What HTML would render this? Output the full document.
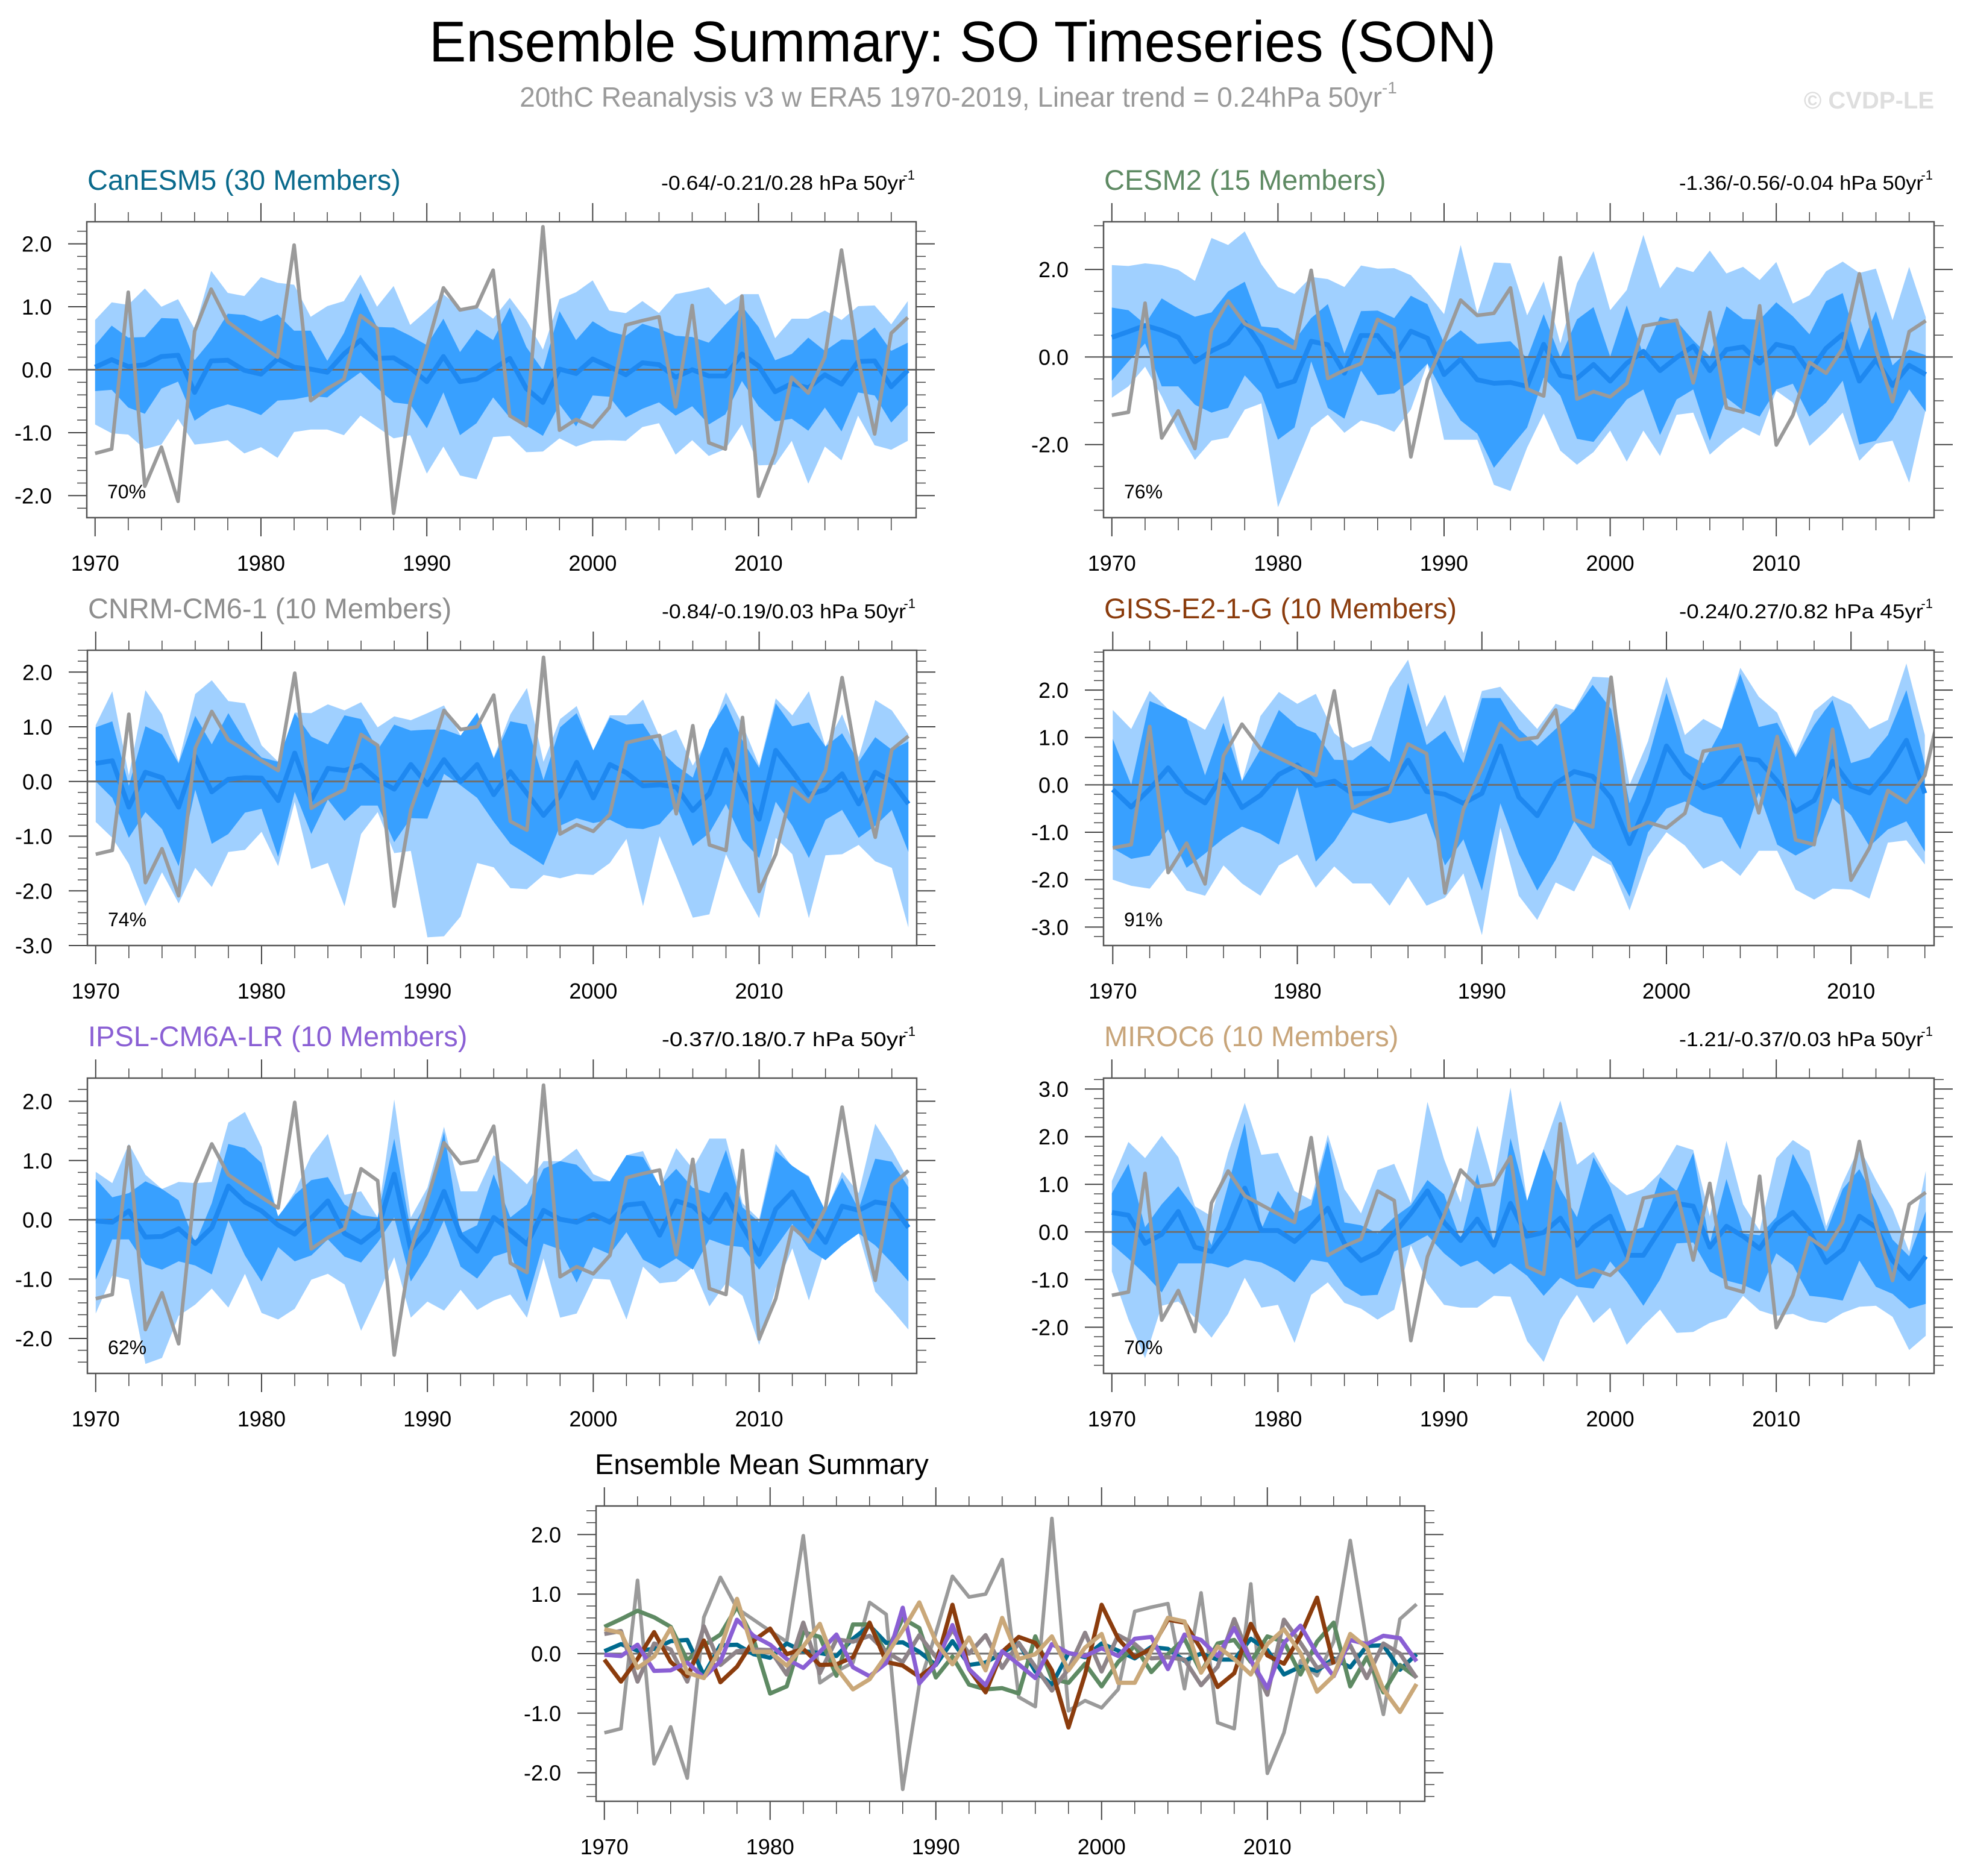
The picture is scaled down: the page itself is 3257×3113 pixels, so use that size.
<!DOCTYPE html>
<html><head><meta charset="utf-8"><title>Ensemble Summary: SO Timeseries (SON)</title>
<style>
html,body{margin:0;padding:0;background:#fff;}
svg{display:block;font-family:"Liberation Sans",Arial,sans-serif;}
</style></head>
<body>
<svg id="fig" xmlns="http://www.w3.org/2000/svg" width="3257" height="3113" viewBox="0 0 3257 3113">
<rect x="0" y="0" width="3257" height="3113" fill="#fff"/>
<text x="1597" y="102" font-size="96" text-anchor="middle" fill="#000" textLength="1770" lengthAdjust="spacingAndGlyphs">Ensemble Summary: SO Timeseries (SON)</text>
<text x="1590" y="177" font-size="46" text-anchor="middle" fill="#9a9a9a">20thC Reanalysis v3 w ERA5 1970-2019, Linear trend = 0.24hPa 50yr<tspan font-size="28" dy="-22">-1</tspan></text>
<text x="3209" y="180" font-size="40" font-weight="bold" text-anchor="end" fill="#dedede">© CVDP-LE</text>
<g id="panels"></g>
</svg>
<script>
const years = [1970,1971,1972,1973,1974,1975,1976,1977,1978,1979,1980,1981,1982,1983,1984,1985,1986,1987,1988,1989,1990,1991,1992,1993,1994,1995,1996,1997,1998,1999,2000,2001,2002,2003,2004,2005,2006,2007,2008,2009,2010,2011,2012,2013,2014,2015,2016,2017,2018,2019];
const gissYears = [1970,1971,1972,1973,1974,1975,1976,1977,1978,1979,1980,1981,1982,1983,1984,1985,1986,1987,1988,1989,1990,1991,1992,1993,1994,1995,1996,1997,1998,1999,2000,2001,2002,2003,2004,2005,2006,2007,2008,2009,2010,2011,2012,2013,2014];
const obsValues = [-1.33,-1.26,1.23,-1.85,-1.23,-2.09,0.61,1.28,0.76,0.57,0.38,0.2,1.98,-0.49,-0.3,-0.15,0.86,0.66,-2.28,-0.52,0.35,1.3,0.95,1.0,1.58,-0.73,-0.89,2.27,-0.96,-0.79,-0.91,-0.6,0.71,0.78,0.84,-0.59,1.02,-1.16,-1.26,1.17,-2.01,-1.33,-0.12,-0.37,0.2,1.9,0.17,-1.02,0.58,0.83];

const canMean = [0.04,0.16,0.05,0.08,0.21,0.23,-0.36,0.14,0.15,-0.01,-0.07,0.17,0.04,0.01,-0.04,0.25,0.47,0.18,0.19,0.03,-0.19,0.21,-0.19,-0.15,0.01,0.18,-0.3,-0.52,0.01,-0.06,0.17,0.05,-0.08,0.11,0.08,-0.12,0,-0.1,-0.1,0.25,0.06,-0.35,-0.22,-0.29,-0.08,-0.23,0.13,0.14,-0.27,-0.01];
const canOutHi = [0.79,1.07,1.03,1.29,1.0,1.12,0.65,1.57,1.22,1.17,1.47,1.38,1.35,0.84,1.01,1.09,1.51,1.0,1.33,0.71,0.94,1.2,0.98,1.0,0.81,1.14,0.79,0.32,1.12,1.23,1.42,0.94,0.9,1.09,0.9,1.2,1.25,1.31,1.03,1.2,1.2,0.5,0.81,0.81,0.94,0.79,1.01,1.02,0.72,1.09];
const canInHi = [0.39,0.7,0.51,0.52,0.82,0.81,0.15,0.47,0.89,0.87,0.77,0.88,0.62,0.62,0.14,0.58,1.22,0.68,0.67,0.54,0.39,0.81,0.28,0.64,0.47,0.99,0.36,-0.01,0.93,0.47,0.77,0.61,0.54,0.73,0.65,0.54,0.52,0.43,0.72,1.01,0.68,0.15,0.25,0.51,0.3,0.48,0.47,0.67,0.3,0.43];
const canInLo = [-0.34,-0.32,-0.6,-0.7,-0.3,-0.19,-0.81,-0.63,-0.55,-0.62,-0.72,-0.49,-0.47,-0.42,-0.44,-0.23,-0.04,-0.29,-0.52,-0.55,-0.93,-0.36,-1.04,-0.85,-0.44,-0.76,-0.89,-1.05,-0.55,-0.9,-0.41,-0.43,-0.76,-0.62,-0.52,-0.73,-0.58,-0.87,-0.71,-0.18,-0.58,-0.82,-0.78,-0.97,-0.6,-0.98,-0.36,-0.41,-0.84,-0.56];
const canOutLo = [-0.87,-1.01,-1.03,-1.26,-1.19,-0.78,-1.19,-1.16,-1.12,-1.33,-1.23,-1.4,-0.99,-0.95,-0.95,-1.04,-0.73,-0.91,-1.09,-1.04,-1.65,-1.22,-1.68,-1.74,-1.07,-1.05,-1.31,-1.3,-1.09,-1.22,-1.13,-1.12,-1.13,-0.91,-0.85,-1.35,-1.12,-1.37,-1.26,-0.87,-1.52,-1.51,-1.13,-1.81,-1.22,-1.44,-0.73,-1.2,-1.27,-1.13];

const cesmMean = [0.45,0.58,0.72,0.61,0.45,-0.11,0.14,0.32,0.79,0.24,-0.67,-0.55,0.36,0.28,-0.37,0.49,0.49,0.01,0.59,0.43,-0.4,-0.05,-0.52,-0.6,-0.58,-0.67,0.29,-0.42,-0.49,-0.17,-0.55,-0.14,0.13,-0.31,-0.01,0.25,-0.31,0.17,0.23,-0.14,0.29,0.2,-0.35,0.2,0.52,-0.55,-0.06,-0.65,-0.19,-0.4];
const cesmOutHi = [2.1,2.08,2.14,2.1,1.99,1.74,2.72,2.56,2.87,2.12,1.6,1.44,1.83,1.78,1.6,2.09,2.02,2.03,1.87,1.46,0.98,2.56,1.0,2.16,2.14,0.95,1.73,0.31,1.69,2.42,1.07,1.53,2.79,1.57,2.06,1.94,2.43,1.91,2.06,1.76,2.17,1.22,1.41,1.96,2.18,1.92,2.02,0.84,2.06,0.91];
const cesmInHi = [1.13,1.07,0.75,1.34,1.11,0.92,1.02,1.5,1.72,0.7,0.66,0.38,0.89,1.21,0.08,1.05,1.06,0.89,1.4,1.21,0.31,0.61,0.3,0.33,0.36,-0.03,0.98,-0.01,0.86,1.14,0.01,1.18,0.04,0.92,0.82,0.38,0.01,1.16,0.87,0.85,1.25,0.93,0.52,1.28,1.46,0.15,1.05,-0.19,0.17,0.04];
const cesmInLo = [-0.54,-0.1,0.31,-0.67,-0.67,-1.09,-1.27,-1.16,-0.42,-0.83,-1.89,-1.61,-0.1,-1.16,-1.41,-0.31,-0.87,-0.83,-0.54,-0.15,-0.86,-1.45,-1.75,-2.53,-2.07,-1.61,-0.47,-0.88,-1.87,-1.94,-1.45,-0.97,-0.74,-1.78,-0.97,-0.74,-1.91,-0.93,-1.22,-1.36,-0.74,-0.61,-1.36,-1.04,-0.54,-2.0,-1.91,-1.43,-0.74,-1.25];
const cesmOutLo = [-0.93,-0.67,-0.22,-0.9,-1.71,-2.35,-1.91,-1.84,-1.2,-1.06,-3.43,-2.53,-1.61,-1.32,-1.73,-1.45,-1.55,-1.71,-1.2,-0.15,-1.89,-1.89,-1.89,-2.92,-3.06,-2.07,-1.29,-2.14,-2.46,-2.17,-1.68,-2.39,-1.68,-2.26,-1.32,-1.27,-2.23,-1.89,-1.61,-1.8,-0.77,-1.04,-2.03,-1.68,-1.27,-2.37,-1.98,-1.91,-2.87,-1.2];

const cnrmMean = [0.33,0.38,-0.47,0.17,0.07,-0.47,0.46,-0.19,0.04,0.07,0.06,-0.35,0.52,-0.33,0.24,0.2,0.3,0.03,-0.14,0.31,-0.06,0.4,0,0.31,-0.24,0.18,-0.22,-0.62,-0.26,0.35,-0.3,0.31,0.16,-0.08,-0.06,-0.1,-0.53,-0.22,0.58,-0.11,-0.69,0.57,0.18,-0.24,-0.15,0.14,-0.41,0.17,0,-0.41];
const cnrmOutHi = [1.03,1.65,0.11,1.67,1.23,0.36,1.6,1.85,1.47,1.43,0.66,0.36,1.26,1.25,1.41,1.3,1.45,0.99,1.19,1.12,1.25,1.39,0.84,1.23,0.44,1.23,1.71,0.36,1.14,1.38,0.57,1.21,1.21,1.5,0.81,0.95,0.29,0.82,1.63,1.04,0.29,1.52,1.21,1.65,0.64,1.23,0.44,1.49,1.3,0.86];
const cnrmInHi = [0.99,1.1,-0.08,1.01,0.86,0.33,1.2,0.68,1.25,0.75,0.44,0.36,1.25,0.82,0.68,1.21,1.14,0.58,1.04,0.93,0.95,0.95,0.84,1.26,0.42,1.1,1.04,0.03,0.99,1.25,0.57,1.17,1.04,1.06,0.58,0.29,0.07,0.95,1.43,0.75,0.25,1.43,1.01,1.08,0.64,0.88,0.36,0.81,0.58,0.73];
const cnrmInLo = [0,-0.3,-1.03,-0.56,-0.87,-1.55,-0.15,-1.14,-0.96,-0.57,-0.5,-1.38,-0.19,-0.96,-0.33,-0.72,-0.44,-0.44,-1.11,-0.67,-0.68,0.14,-0.07,-0.3,-0.74,-1.14,-1.33,-1.53,-0.81,-0.67,-0.76,-0.7,-0.85,-0.87,-0.78,-0.44,-1.18,-0.94,-0.41,-1.07,-1.4,-0.37,-0.81,-1.4,-0.7,-0.52,-1.03,-0.81,-0.52,-1.29];
const cnrmOutLo = [-0.74,-1.03,-1.51,-2.28,-1.66,-2.23,-1.58,-1.93,-1.29,-1.25,-0.92,-1.55,-0.37,-1.6,-1.49,-2.28,-0.96,-0.56,-1.31,-1.27,-2.85,-2.83,-2.47,-1.49,-1.57,-1.95,-1.97,-1.71,-1.77,-1.69,-1.71,-1.49,-1.05,-2.28,-1.0,-1.73,-2.49,-2.43,-1.33,-1.95,-2.5,-1.03,-1.33,-2.5,-1.35,-1.33,-1.16,-1.46,-1.58,-2.67];

const gissMean = [-0.1,-0.47,-0.09,0.36,-0.14,-0.38,0.22,-0.48,-0.22,0.22,0.42,-0.01,0.08,-0.19,-0.18,-0.06,0.52,-0.14,-0.2,-0.39,-0.18,0.82,-0.26,-0.65,0.03,0.28,0.18,-0.28,-1.24,-0.35,0.82,0.25,-0.06,0.08,0.57,0.52,0.08,-0.56,-0.33,0.5,-0.03,-0.17,0.3,0.94,-0.18];
const gissOutHi = [1.58,1.18,1.98,1.6,1.39,1.16,1.88,0.08,1.45,1.96,1.71,1.92,1.09,0.78,0.94,2.05,2.64,1.22,1.9,0.67,1.98,2.07,1.6,1.18,1.71,1.58,2.28,2.26,0,0.92,2.28,1.05,1.39,1.18,2.47,1.86,1.52,0.63,1.56,1.88,1.69,1.18,1.37,2.56,1.05];
const gissInHi = [0.97,0,1.77,1.6,1.39,0.2,1.31,0.08,0.75,1.58,1.24,1.09,0.53,0.52,0.82,0.48,2.15,0.84,1.14,0.46,1.83,1.83,1.18,0.82,1.18,1.56,2.11,1.6,-0.39,0.54,1.94,0.67,0.46,1.18,2.34,1.22,1.31,0.58,1.26,1.79,0.46,0.58,1.05,2.0,0.42];
const gissInLo = [-1.34,-1.56,-1.49,-0.94,-1.75,-1.45,-1.13,-0.88,-1.03,-1.26,-0.05,-1.62,-1.19,-0.58,-0.71,-0.81,-0.73,-0.6,-1.7,-1.15,-2.23,-0.39,-1.45,-2.23,-1.58,-0.77,-1.32,-1.62,-2.36,-1.0,-0.5,-0.35,-0.58,-0.69,-1.36,-0.16,-1.26,-1.49,-1.28,-0.28,-0.64,-1.3,-0.94,-0.77,-1.41];
const gissOutLo = [-2.0,-2.13,-2.19,-1.7,-2.23,-2.34,-1.7,-2.08,-2.34,-1.7,-1.47,-2.17,-1.72,-2.08,-2.08,-2.55,-1.94,-2.55,-2.38,-1.87,-3.17,-0.9,-2.34,-2.85,-2.06,-2.25,-1.49,-1.7,-2.65,-1.53,-1.0,-1.28,-1.77,-1.6,-1.92,-1.39,-1.39,-2.21,-2.42,-2.19,-2.21,-2.4,-1.22,-1.17,-1.68];

const ipslMean = [-0.02,-0.04,0.15,-0.29,-0.28,-0.15,-0.4,-0.13,0.57,0.3,0.15,-0.09,-0.24,0.03,0.32,-0.23,-0.38,-0.16,0.77,-0.5,-0.18,0.48,-0.26,-0.53,0.04,-0.18,-0.41,0.16,0.01,-0.04,0.09,-0.04,0.25,0.28,-0.26,0.32,0.23,-0.04,0.43,-0.11,-0.58,0.18,0.47,-0.01,-0.38,0.23,0.16,0.3,0.26,-0.13];
const ipslOutHi = [0.81,0.62,1.28,0.76,0.52,0.64,0.62,0.64,1.64,1.82,1.23,0.04,0.47,1.09,1.45,0.42,0.48,0.04,2.03,0.04,0.54,1.57,0.48,0.48,1.09,0.86,0.6,0.99,0.99,1.2,0.77,0.65,1.09,1.16,0.55,1.21,0.86,1.37,1.37,0.28,0.01,1.28,0.89,0.74,0.11,0.81,0.45,1.62,1.18,0.67];
const ipslInHi = [0.69,0.38,0.45,0.65,0.52,0.33,-0.4,0.28,1.28,1.21,0.96,0.06,0.42,0.67,0.72,0.26,0.08,0.04,1.37,-0.19,0.32,1.48,-0.23,-0.09,0.77,0.04,0.26,0.86,0.99,0.93,0.65,0.65,1.09,1.06,0.57,0.86,0.54,0.45,1.18,0.21,-0.04,1.16,0.91,0.72,0.15,0.71,0.18,1.03,0.98,0.55];
const ipslInLo = [-1.01,-0.33,-0.33,-0.75,-0.84,-0.7,-0.77,-0.92,-0.01,-0.6,-1.04,-0.46,-0.7,-0.6,-0.33,-0.62,-0.72,-0.38,0.04,-1.04,-0.6,-0.01,-0.79,-0.99,-0.62,-0.53,-1.38,-0.4,-0.5,-1.06,-0.46,-0.58,-0.21,-0.67,-0.82,-0.65,-0.84,-0.33,-0.43,-0.46,-0.84,-0.46,-0.07,-0.5,-0.68,-0.43,-0.23,-0.43,-0.72,-1.04];
const ipslOutLo = [-1.58,-0.94,-1.01,-2.43,-2.33,-1.62,-1.43,-1.16,-1.48,-0.91,-1.57,-1.68,-1.5,-1.01,-0.91,-1.09,-1.87,-1.28,-0.63,-1.65,-1.38,-1.53,-1.18,-1.52,-1.36,-1.26,-1.65,-0.65,-1.65,-1.58,-0.99,-1.01,-1.68,-0.79,-1.07,-1.04,-0.8,-1.46,-1.07,-1.28,-2.11,-1.16,-0.48,-1.36,-0.46,-0.36,-0.23,-1.21,-1.52,-1.85];

const mirocMean = [0.41,0.35,-0.24,-0.05,0.43,-0.32,-0.41,0.08,0.92,0.03,0.03,-0.2,0.12,0.5,-0.24,-0.6,-0.43,-0.03,0.39,0.86,0.2,-0.18,0.27,-0.28,0.6,-0.09,-0.01,0.29,-0.28,0.1,0.33,-0.49,-0.49,0.05,0.6,0.54,-0.32,0.12,-0.09,-0.35,0.16,0.41,0.01,-0.64,-0.37,0.33,0.1,-0.6,-0.98,-0.51];
const mirocOutHi = [1.07,1.89,1.55,2.02,1.57,0.54,0.33,1.66,2.71,1.62,1.66,0.86,0.67,2.04,0.9,0.39,1.3,1.43,0.6,2.73,1.53,0.62,2.23,1.0,3.03,0.65,1.76,2.76,1.41,1.68,1.05,0.77,0.9,1.24,1.83,1.72,0.33,1.91,0.58,0.03,1.55,1.93,1.7,0.12,1.03,1.78,1.09,0.48,-0.41,1.28];
const mirocInHi = [0.81,1.43,0.1,0.58,0.96,0.48,-0.28,0.98,2.29,0.05,0.86,0.39,0.56,1.91,0.2,0.14,-0.03,0.31,0.56,1.09,0.79,-0.18,1.22,-0.24,1.97,0.65,1.74,0.9,0.31,1.57,0.94,-0.01,0.1,1.15,0.86,1.66,-0.24,1.11,-0.03,-0.07,0.31,1.64,0.98,-0.01,0.9,1.32,0.65,-0.16,-0.51,0.43];
const mirocInLo = [-0.26,-0.56,-0.89,-1.27,-0.66,-0.66,-0.66,-0.75,-0.58,-0.64,-0.81,-1.06,-0.58,-0.64,-1.13,-1.34,-1.32,-0.41,-0.26,-0.07,-0.45,-0.73,-0.6,-0.89,-0.66,-0.92,-1.34,-0.96,-1.15,-1.19,-0.62,-1.04,-1.55,-1.0,-0.24,-0.22,-0.83,-1.02,-1.11,-1.27,-0.45,-0.7,-1.34,-1.38,-1.44,-0.6,-1.15,-1.3,-1.61,-1.51];
const mirocOutLo = [-0.83,-1.84,-2.65,-1.55,-1.46,-1.8,-2.22,-1.72,-0.96,-1.59,-1.53,-2.33,-1.32,-1.06,-1.49,-1.61,-1.84,-1.63,-0.28,-1.08,-1.53,-1.59,-1.59,-1.34,-1.36,-2.29,-2.73,-1.84,-1.32,-1.91,-1.59,-2.37,-1.97,-1.63,-2.12,-2.1,-1.91,-1.8,-1.34,-1.65,-1.76,-1.72,-1.86,-1.91,-1.7,-1.57,-1.55,-1.78,-2.48,-2.18];

const xTickLabels = ["1970","1980","1990","2000","2010"];

const NS = "http://www.w3.org/2000/svg";
const root = document.getElementById("panels");
function mk(tag, attrs, parent) {
  const el = document.createElementNS(NS, tag);
  for (const k in attrs) el.setAttribute(k, attrs[k]);
  (parent || root).appendChild(el);
  return el;
}

const panels = [
  {key:"canesm5", title:"CanESM5 (30 Members)", color:"#0a6a8c", trend:"-0.64/-0.21/0.28 hPa 50yr", pct:"70%",
   L:144,R:1520,T:368,B:859, x0:1969.5,x1:2019.5, y0:-2.35,y1:2.35, yt:[2,1,0,-1,-2], minor:0.2,
   yrs:years, mean:canMean, oh:canOutHi, ih:canInHi, il:canInLo, ol:canOutLo},
  {key:"cesm2", title:"CESM2 (15 Members)", color:"#5e8a63", trend:"-1.36/-0.56/-0.04 hPa 50yr", pct:"76%",
   L:1831,R:3209,T:368,B:859, x0:1969.5,x1:2019.5, y0:-3.67,y1:3.09, yt:[2,0,-2], minor:0.5,
   yrs:years, mean:cesmMean, oh:cesmOutHi, ih:cesmInHi, il:cesmInLo, ol:cesmOutLo},
  {key:"cnrm-cm6-1", title:"CNRM-CM6-1 (10 Members)", color:"#8e8e8e", trend:"-0.84/-0.19/0.03 hPa 50yr", pct:"74%",
   L:145,R:1521,T:1079,B:1569, x0:1969.5,x1:2019.5, y0:-3.0,y1:2.4, yt:[2,1,0,-1,-2,-3], minor:0.2,
   yrs:years, mean:cnrmMean, oh:cnrmOutHi, ih:cnrmInHi, il:cnrmInLo, ol:cnrmOutLo},
  {key:"giss-e2-1-g", title:"GISS-E2-1-G (10 Members)", color:"#8b3c0d", trend:"-0.24/0.27/0.82 hPa 45yr", pct:"91%",
   L:1831,R:3209,T:1079,B:1569, x0:1969.5,x1:2014.5, y0:-3.39,y1:2.84, yt:[2,1,0,-1,-2,-3], minor:0.2,
   yrs:gissYears, mean:gissMean, oh:gissOutHi, ih:gissInHi, il:gissInLo, ol:gissOutLo},
  {key:"ipsl-cm6a-lr", title:"IPSL-CM6A-LR (10 Members)", color:"#8a5fd4", trend:"-0.37/0.18/0.7 hPa 50yr", pct:"62%",
   L:145,R:1521,T:1789,B:2279, x0:1969.5,x1:2019.5, y0:-2.59,y1:2.39, yt:[2,1,0,-1,-2], minor:0.2,
   yrs:years, mean:ipslMean, oh:ipslOutHi, ih:ipslInHi, il:ipslInLo, ol:ipslOutLo},
  {key:"miroc6", title:"MIROC6 (10 Members)", color:"#c8a57a", trend:"-1.21/-0.37/0.03 hPa 50yr", pct:"70%",
   L:1831,R:3209,T:1789,B:2279, x0:1969.5,x1:2019.5, y0:-2.97,y1:3.23, yt:[3,2,1,0,-1,-2], minor:0.2,
   yrs:years, mean:mirocMean, oh:mirocOutHi, ih:mirocInHi, il:mirocInLo, ol:mirocOutLo}
];
const summaryColors = ["#006a8e","#5e8a63","#8e8489","#8b3c0d","#8a5fd4","#caa879"];

function axes(p, g) {
  const xs = v => p.L + (v - p.x0) / (p.x1 - p.x0) * (p.R - p.L);
  const ys = v => p.B - (v - p.y0) / (p.y1 - p.y0) * (p.B - p.T);
  return {xs, ys};
}

function drawFrame(p, g, xs, ys) {
  for (let yr = 1970; yr <= p.x1; yr += 2) {
    const major = (yr % 10 === 0);
    const x = xs(yr);
    const tb = mk("line", {x1:x, x2:x, y1:p.B, y2:p.B + (major ? 31 : 21), stroke:"#444", "stroke-width": major ? 2 : 1.5}, g);
    
    
    const tt = mk("line", {x1:x, x2:x, y1:p.T, y2:p.T - (major ? 31 : 16), stroke:"#444", "stroke-width": major ? 2 : 1.5}, g);
    
    
  }
  xTickLabels.forEach(lbl => {
    const t = mk("text", {x:xs(+lbl), y:p.B + 88, "font-size":36, "text-anchor":"middle", fill:"#000"}, g);
    t.textContent = lbl;
    
    
  });
  const start = Math.ceil(p.y0 / p.minor - 1e-6), end = Math.floor(p.y1 / p.minor + 1e-6);
  for (let k = start; k <= end; k++) {
    const v = k * p.minor;
    const major = Math.abs(v - Math.round(v)) < 1e-6 && p.yt.indexOf(Math.round(v)) >= 0;
    const y = ys(v);
    const len = major ? 31 : 16;
    const tl = mk("line", {x1:p.L - len, x2:p.L, y1:y, y2:y, stroke:"#444", "stroke-width": major ? 2 : 1.5}, g);
    
    
    const tr = mk("line", {x1:p.R, x2:p.R + len, y1:y, y2:y, stroke:"#444", "stroke-width": major ? 2 : 1.5}, g);
    
    
  }
  p.yt.forEach(v => {
    const t = mk("text", {x:p.L - 58, y:ys(v) + 13, "font-size":36, "text-anchor":"end", fill:"#000"}, g);
    t.textContent = v.toFixed(1);
    
    
  });
  const box = mk("rect", {x:p.L, y:p.T, width:p.R - p.L, height:p.B - p.T, fill:"none", stroke:"#555", "stroke-width":2.5}, g);
  
  
}

function linePath(yrs, vals, xs, ys) {
  return vals.map((v, i) => (i ? "L" : "M") + xs(yrs[i]).toFixed(1) + "," + ys(v).toFixed(1)).join(" ");
}
function bandPath(yrs, hi, lo, xs, ys) {
  let d = hi.map((v, i) => (i ? "L" : "M") + xs(yrs[i]).toFixed(1) + "," + ys(v).toFixed(1)).join(" ");
  for (let i = lo.length - 1; i >= 0; i--) d += " L" + xs(yrs[i]).toFixed(1) + "," + ys(lo[i]).toFixed(1);
  return d + " Z";
}

panels.forEach((p, idx) => {
  const g = mk("g", {});
  
  
  const {xs, ys} = axes(p, g);
  const clipId = "clip" + idx;
  const cp = mk("clipPath", {id:clipId}, g);
  mk("rect", {x:p.L, y:p.T, width:p.R - p.L, height:p.B - p.T}, cp);
  const inner = mk("g", {"clip-path":"url(#" + clipId + ")"}, g);
  
  

  const ob = mk("path", {d:bandPath(p.yrs, p.oh, p.ol, xs, ys), fill:"#a0d0ff", stroke:"none"}, inner);
  
  
  const ib = mk("path", {d:bandPath(p.yrs, p.ih, p.il, xs, ys), fill:"#38a0ff", stroke:"none"}, inner);
  
  
  const z = mk("line", {x1:p.L, x2:p.R, y1:ys(0), y2:ys(0), stroke:"#6f6f6f", "stroke-width":3}, inner);
  
  
  const m = mk("path", {d:linePath(p.yrs, p.mean, xs, ys), fill:"none", stroke:"#1e88f0", "stroke-width":8, "stroke-linejoin":"round"}, inner);
  
  
  const o = mk("path", {d:linePath(years, obsValues, xs, ys), fill:"none", stroke:"#9a9a9a", "stroke-width":6, "stroke-linejoin":"round"}, inner);
  
  

  drawFrame(p, g, xs, ys);

  const t = mk("text", {x:p.L + 1, y:p.T - 53, "font-size":47, fill:p.color}, g);
  t.textContent = p.title;
  
  
  const tr = mk("text", {x:p.R - 18, y:p.T - 53, "font-size":33, "text-anchor":"end", fill:"#000", textLength:405, lengthAdjust:"spacingAndGlyphs"}, g);
  tr.textContent = p.trend;
  
  
  const sup = mk("text", {x:p.R - 2, y:p.T - 70, "font-size":22, "text-anchor":"end", fill:"#000"}, g);
  sup.textContent = "-1";
  
  
  const pc = mk("text", {x:p.L + 34, y:p.B - 32, "font-size":32, fill:"#000"}, g);
  pc.textContent = p.pct;
  
  
});

const S = {key:"summary", L:989, R:2364, T:2499, B:2989, x0:1969.5, x1:2019.5, y0:-2.48, y1:2.48, yt:[2,1,0,-1,-2], minor:0.2};
const sg = mk("g", {});


const sax = axes(S, sg);
const scp = mk("clipPath", {id:"clipS"}, sg);
mk("rect", {x:S.L, y:S.T, width:S.R - S.L, height:S.B - S.T}, scp);
const sIn = mk("g", {"clip-path":"url(#clipS)"}, sg);


const sz = mk("line", {x1:S.L, x2:S.R, y1:sax.ys(0), y2:sax.ys(0), stroke:"#6f6f6f", "stroke-width":3}, sIn);


const so = mk("path", {d:linePath(years, obsValues, sax.xs, sax.ys), fill:"none", stroke:"#9a9a9a", "stroke-width":6, "stroke-linejoin":"round"}, sIn);


panels.forEach((p, i) => {
  const l = mk("path", {d:linePath(p.yrs, p.mean, sax.xs, sax.ys), fill:"none", stroke:summaryColors[i], "stroke-width":7, "stroke-linejoin":"round"}, sIn);
  
  
});
drawFrame(S, sg, sax.xs, sax.ys);
const st = mk("text", {x:987, y:S.T - 53, "font-size":47, fill:"#000"}, sg);
st.textContent = "Ensemble Mean Summary";


</script>
</body></html>
